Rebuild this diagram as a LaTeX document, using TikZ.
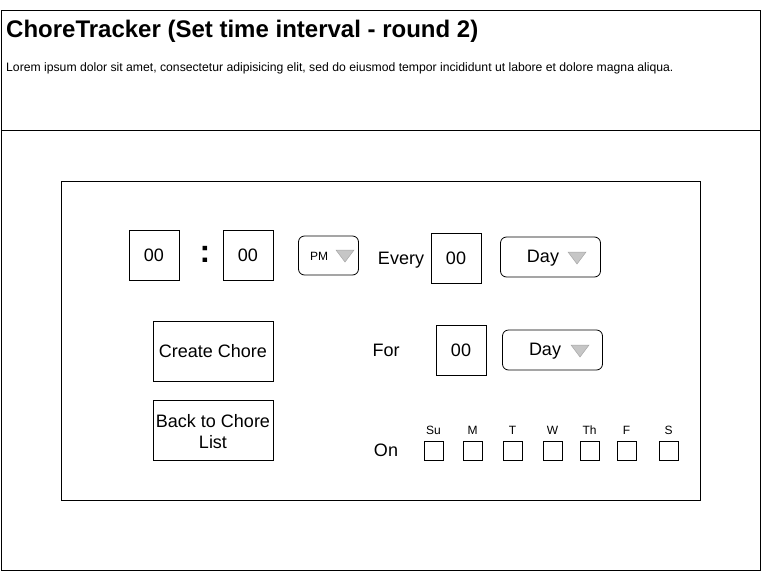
\documentclass[tikz,border=0pt]{standalone}
\usepackage{fontspec}
\setmainfont{Liberation Sans}
\tikzset{
  box/.style={draw, line width=0.8pt, minimum width=50pt, minimum height=50pt, inner sep=0pt, font=\fontsize{18}{20}\selectfont},
  btn/.style={draw, line width=0.8pt, minimum width=120pt, minimum height=60pt, inner sep=0pt, align=center, font=\fontsize{18}{21}\selectfont},
  dd/.style={draw, line width=0.8pt, rounded corners=6pt, inner sep=0pt},
  lbl/.style={font=\fontsize{18}{20}\selectfont, inner sep=0pt, text depth=0pt},
  chk/.style={draw, line width=0.8pt, minimum width=19pt, minimum height=19pt, inner sep=0pt},
  day/.style={font=\fontsize{12}{14}\selectfont, inner sep=0pt, text depth=0pt},
  tri/.style={draw=gray!70, fill=gray!45, line width=0.5pt}
}
\begin{document}
\begin{tikzpicture}[x=1pt,y=-1pt]
\useasboundingbox (0,0) rectangle (761,571);
% frames
\draw[line width=0.8pt] (1,10.5) rectangle (760,570.5);
\draw[line width=0.8pt] (1,130.5) -- (760,130.5);
\node[anchor=west, inner sep=0pt, text depth=0pt, font=\fontsize{24}{26}\bfseries\selectfont] (title) at (6,28.5) {ChoreTracker (Set time interval - round 2)};
\node[anchor=west, inner sep=0pt, text depth=0pt, font=\fontsize{12.2}{14}\selectfont] (lorem) at (6,67.5) {Lorem ipsum dolor sit amet, consectetur adipisicing elit, sed do eiusmod tempor incididunt ut labore et dolore magna aliqua.};
\draw[line width=0.8pt] (61,181) rectangle (700.5,500);
% time
\node[box, text depth=0pt] (hh) at (154,255.5) {00};
\node[lbl, font=\fontsize{32}{34}\bfseries\selectfont] (colon) at (205,254) {:};
\node[box, text depth=0pt] (mm) at (248,255.5) {00};
\node[dd, minimum width=60pt, minimum height=39pt] (pm) at (328.5,255.5) {};
\node[inner sep=0pt, text depth=0pt, font=\fontsize{12}{14}\selectfont] (pmt) at (319,256) {PM};
\fill[tri] (336,250) -- (354,250) -- (345,262) -- cycle;
\node[lbl, text depth=0pt] (every) at (401,258.5) {Every};
\node[box, text depth=0pt] (ev) at (456,258) {00};
\node[dd, minimum width=100pt, minimum height=40pt] (dd1) at (550.5,257) {};
\node[lbl] (dayt1) at (543,256.5) {Day};
\fill[tri] (568,252) -- (586,252) -- (577,264) -- cycle;
% buttons
\node[btn] (create) at (213,351) {Create Chore};
\node[btn] (back) at (213,430) {};
\node[lbl, align=center, font=\fontsize{18}{21}\selectfont] (backt) at (213,431.5) {Back to Chore\\List};
% for
\node[lbl] (for) at (386,350.5) {For};
\node[box, text depth=0pt] (fo) at (461,350) {00};
\node[dd, minimum width=100pt, minimum height=40pt] (dd2) at (552.5,350) {};
\node[lbl] (dayt2) at (545,349.5) {Day};
\fill[tri] (571,345) -- (589,345) -- (580,357) -- cycle;
% on
\node[lbl] (on) at (386,450.5) {On};
\foreach \n/\x/\t in {su/433.5/Su, mo/472.5/M, tu/512.5/T, we/552.5/W, th/589.5/Th, fr/626.5/F, sa/668.5/S}{
  \node[chk] (c\n) at (\x,451) {};
  \node[day] (l\n) at (\x,430.5) {\t};
}
\end{tikzpicture}
\end{document}
